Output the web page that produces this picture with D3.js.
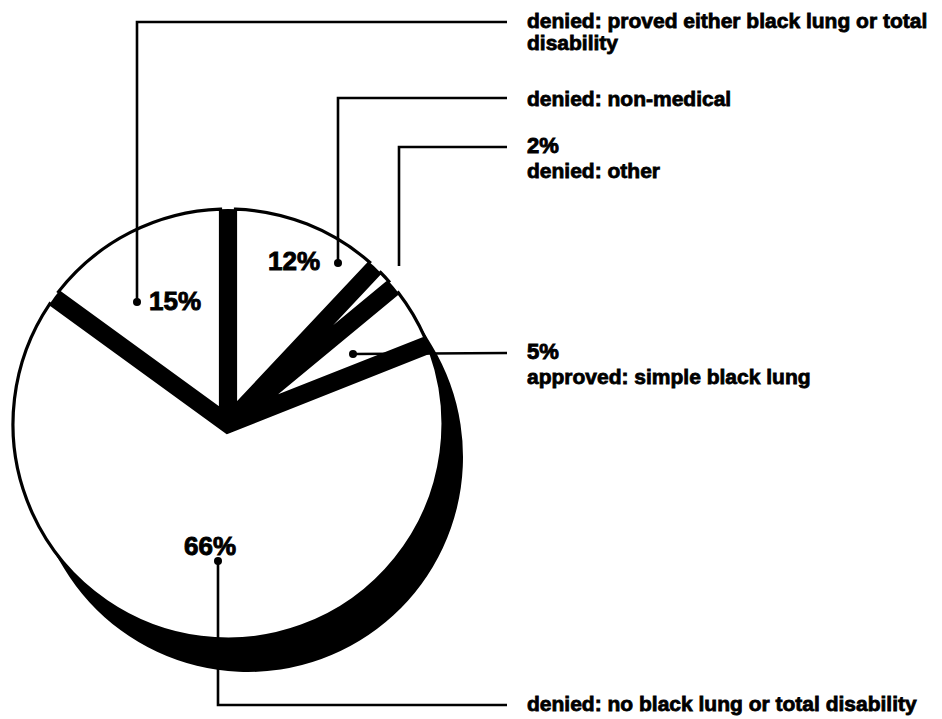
<!DOCTYPE html>
<html>
<head>
<meta charset="utf-8">
<script src="https://cdn.jsdelivr.net/npm/d3@7"></script>
<style>
  html, body { margin: 0; padding: 0; background: #fff; }
  #chart { width: 942px; height: 719px; }
  text { font-family: "Liberation Sans", Arial, sans-serif; font-weight: bold; fill: #000; }
</style>
</head>
<body>
<div id="chart"></div>
<script>

// slices, clockwise from 12 o'clock
const categories = [
  'denied: non-medical',
  'denied: other',
  'approved: simple black lung',
  'denied: no black lung or total disability',
  'denied: proved either black lung or total disability'
];
const shares = [12, 2, 5, 66, 15];

// where each percent sits: inside the slice, or above the outside label
const pctPlacement = ['inside', 'outside', 'outside', 'inside', 'inside'];

// annotation layout (leader lines, dots, text spots), same order as the slices
const layout = [
  { dot: [338, 263], leader: [[338, 263], [338, 98], [507, 98]], textY: 106, pct: [268, 270] },
  { dot: null, leader: [[399, 266], [399, 147], [507, 147]], textY: 178, pct: [527, 153] },
  { dot: [353, 354], leader: [[353, 354], [507, 353]], textY: 384, pct: [527, 359] },
  { dot: [218, 561], leader: [[218, 561], [218, 705], [507, 705]], textY: 711, pct: [184, 555] },
  { dot: [137, 302], leader: [[137, 302], [137, 22], [507, 22]], textY: 28, pct: [149, 310] }
];

const width = 942, height = 719;
const cx = 228, cy = 424;   // pie centre
const radius = 215;
const gap = 7.5;            // half width of the black gap between slices
const shadow = [20, 33];    // drop of the black shadow

const svg = d3.select('#chart')
  .append('svg')
  .attr('width', width)
  .attr('height', height);

// pie layout, keep the order of the data
const pie = d3.pie().sort(null).startAngle(0).endAngle(2 * Math.PI);
const arcs = pie(shares);

// sector with both straight edges pushed in by `gap`, so gaps stay even in width
function slicePath(d) {
  const half = (d.endAngle - d.startAngle) / 2;
  const mid = d.startAngle + half;
  const apex = gap / Math.sin(half);
  const delta = Math.asin(gap / radius);
  const a0 = d.startAngle + delta, a1 = d.endAngle - delta;
  const p = d3.path();
  p.moveTo(apex * Math.sin(mid), -apex * Math.cos(mid));
  p.lineTo(radius * Math.sin(a0), -radius * Math.cos(a0));
  p.arc(0, 0, radius, a0 - Math.PI / 2, a1 - Math.PI / 2);
  p.closePath();
  return p.toString();
}

const g = svg.append('g').attr('transform', `translate(${cx},${cy})`);

// black base: the disc swept down-right (a fat round-capped line does it)
g.append('line')
  .attr('x1', 0).attr('y1', 0)
  .attr('x2', shadow[0]).attr('y2', shadow[1])
  .attr('stroke', '#000')
  .attr('stroke-width', radius * 2)
  .attr('stroke-linecap', 'round');

// white slices on top
g.selectAll('path.slice')
  .data(arcs)
  .join('path')
  .attr('class', 'slice')
  .attr('d', slicePath)
  .attr('fill', '#fff')
  .attr('stroke', '#000')
  .attr('stroke-width', 3.2)
  .attr('stroke-linejoin', 'miter');

// leader lines
const line = d3.line();
svg.append('g')
  .selectAll('path')
  .data(layout)
  .join('path')
  .attr('d', d => line(d.leader))
  .attr('fill', 'none')
  .attr('stroke', '#000')
  .attr('stroke-width', 2.6);

// little dots at the start of the leaders
svg.append('g')
  .selectAll('circle')
  .data(layout.filter(d => d.dot))
  .join('circle')
  .attr('cx', d => d.dot[0])
  .attr('cy', d => d.dot[1])
  .attr('r', 4)
  .attr('fill', '#000');

// percent labels
svg.append('g')
  .selectAll('text')
  .data(shares)
  .join('text')
  .attr('x', (d, i) => layout[i].pct[0])
  .attr('y', (d, i) => layout[i].pct[1])
  .attr('font-size', (d, i) => pctPlacement[i] === 'inside' ? 26 : 22)
  .attr('stroke', '#000')
  .attr('stroke-width', 0.9)
  .text(d => `${d}%`);

// category labels on the right, wrapped when too long
const labels = svg.append('g')
  .selectAll('text')
  .data(categories)
  .join('text')
  .attr('x', 527)
  .attr('y', (d, i) => layout[i].textY)
  .attr('font-size', 21)
  .attr('stroke', '#000')
  .attr('stroke-width', 0.8);

labels.each(function (d) {
  const el = d3.select(this);
  const words = d.split(' ');
  let lineWords = [];
  let tspan = el.append('tspan').attr('x', 527);
  for (const w of words) {
    lineWords.push(w);
    tspan.text(lineWords.join(' '));
    if (tspan.node().getComputedTextLength() > 412 && lineWords.length > 1) {
      lineWords.pop();
      tspan.text(lineWords.join(' '));
      lineWords = [w];
      tspan = el.append('tspan').attr('x', 527).attr('dy', 22).text(w);
    }
  }
});

</script>
</body>
</html>
